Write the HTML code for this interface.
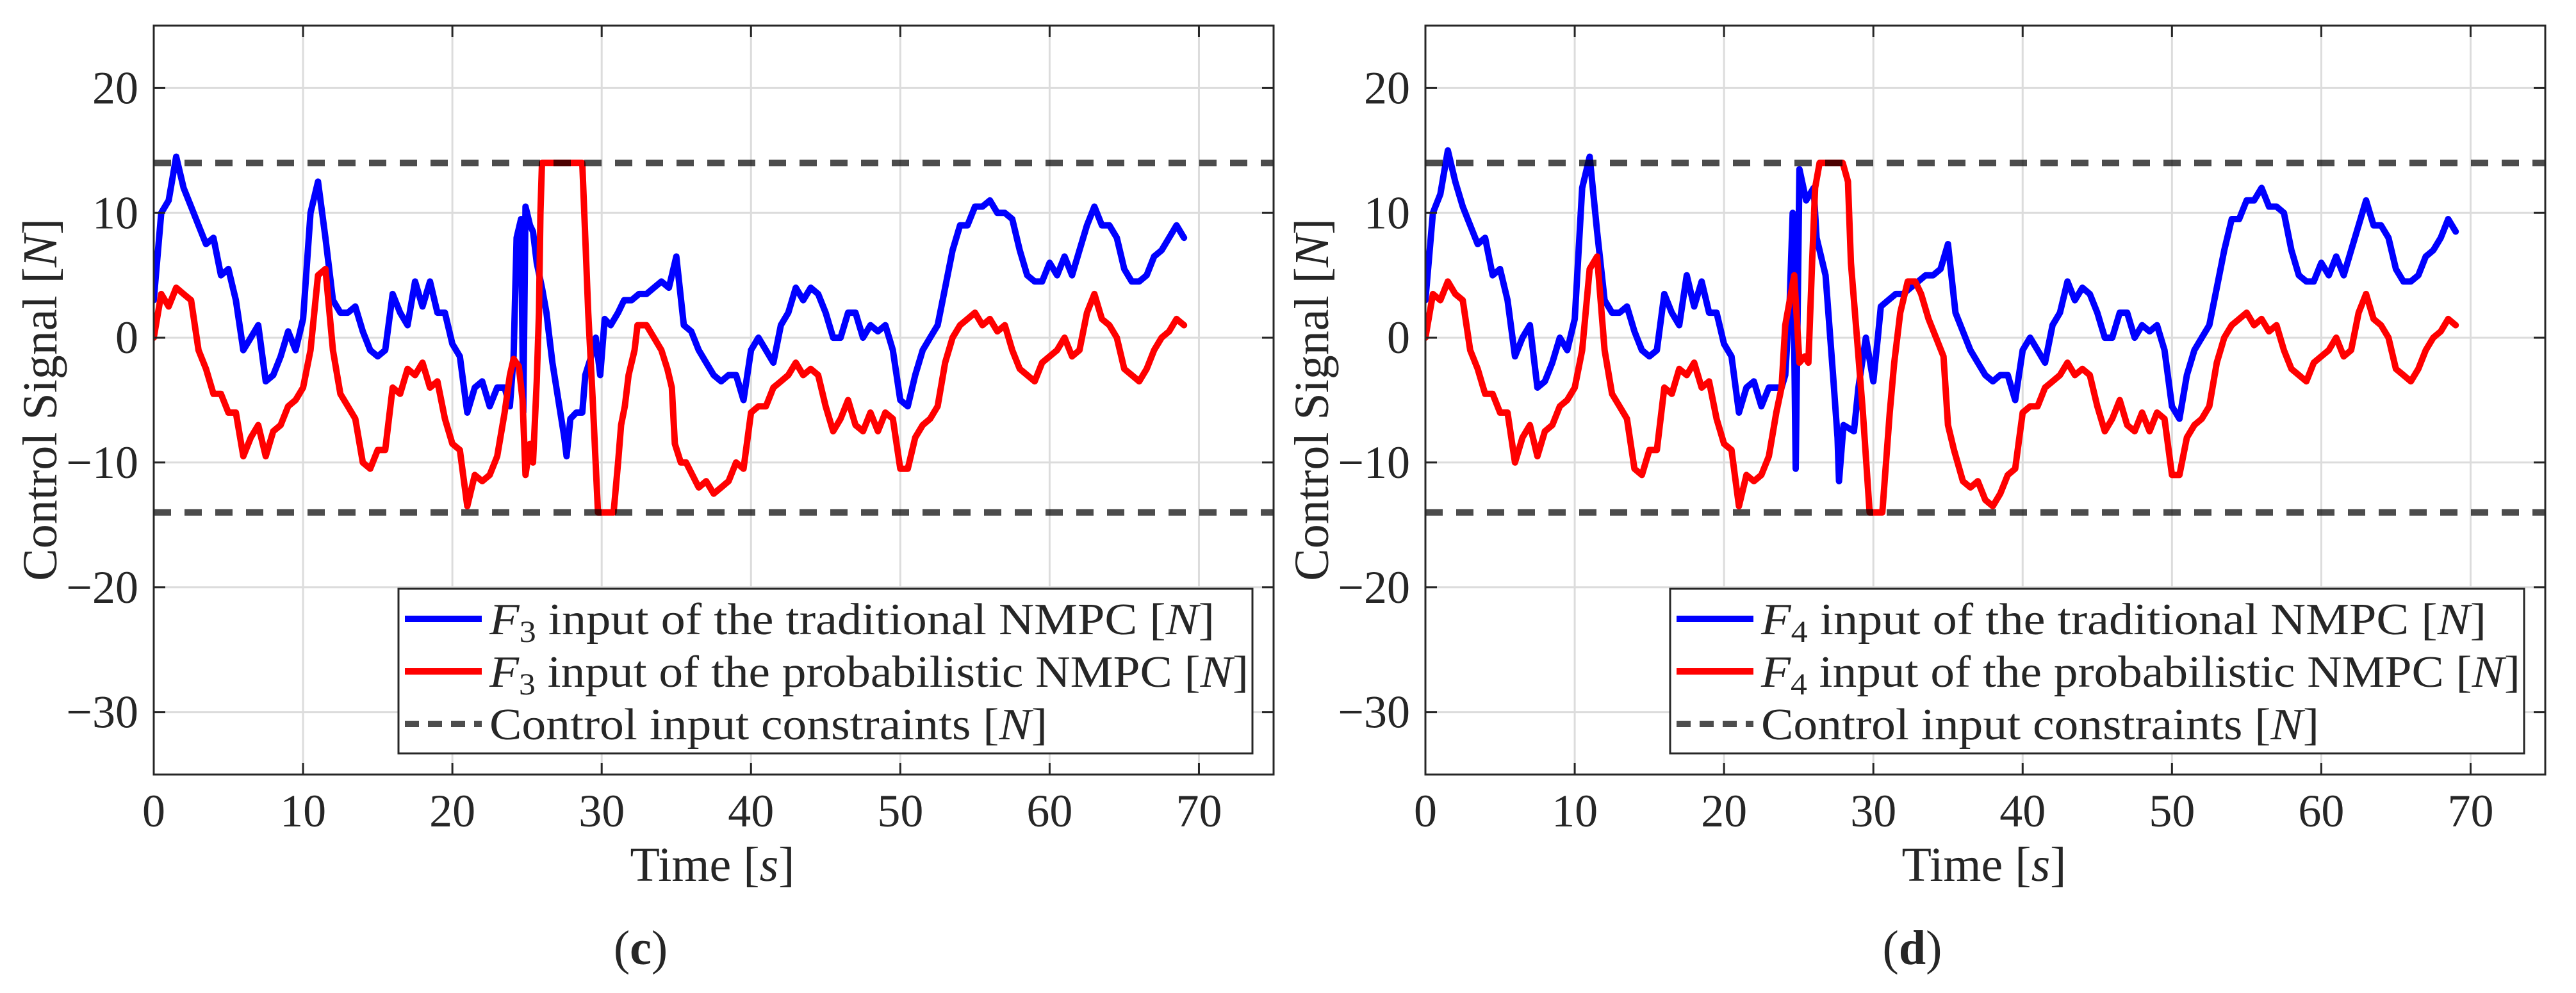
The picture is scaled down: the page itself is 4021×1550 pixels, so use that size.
<!DOCTYPE html>
<html><head><meta charset="utf-8"><style>
html,body{margin:0;padding:0;background:#fff;}
svg{display:block;}
text{font-family:"Liberation Serif",serif;fill:#262626;}
</style></head><body>
<svg id="fig" width="4021" height="1550" viewBox="0 0 4021 1550" xmlns="http://www.w3.org/2000/svg"></svg>
<script>
// ---------- data ----------
const xTicks = [0,10,20,30,40,50,60,70];
const yTicks = [20,10,0,-10,-20,-30];
const constraintLevels = [14,-14];

const headT = [0,0.5,1,1.5,2,2.5,3,3.5,4,4.5,5,5.5,6,6.5,7,7.5,8,8.5,9,9.5,10,10.5,11,11.5,12,12.5,13,13.5,14,14.5,15,15.5,16,16.5,17,17.5,18,18.5,19,19.5,20,20.5,21,21.5,22,22.5,23,23.5];
const tailT = [36,36.5,37,37.5,38,38.5,39,39.5,40,40.5,41,41.5,42,42.5,43,43.5,44,44.5,45,45.5,46,46.5,47,47.5,48,48.5,49,49.5,50,50.5,51,51.5,52,52.5,53,53.5,54,54.5,55,55.5,56,56.5,57,57.5,58,58.5,59,59.5,60,60.5,61,61.5,62,62.5,63,63.5,64,64.5,65,65.5,66,66.5,67,67.5,68,68.5,69];

// (c) F3 traditional
const cTradHead = [3,10,11,14.5,12,10.5,9,7.5,8,5,5.5,3,-1,0,1,-3.5,-3,-1.5,0.5,-1,1.5,10,12.5,8,3,2,2,2.5,0.5,-1,-1.5,-1,3.5,2,1,4.5,2.5,4.5,2,2,-0.5,-1.5,-6,-4,-3.5,-5.5,-4,-4];
const cTradMidT = [23.85,24.1,24.3,24.6,24.75,24.9,25.2,25.4,25.65,26,26.3,26.5,26.7,27.1,27.5,27.65,27.9,28.3,28.7,28.9,29.3,29.6,29.9,30.2,30.6,31.1,31.5,32,32.5,33,33.5,34,34.5,35,35.5];
const cTradMid = [-5.5,-1.5,8,9.5,-6,10.5,9,8.5,6,4,2,0,-2,-5,-8,-9.5,-6.5,-6,-6,-3,-1.5,0,-3,1.5,1,2,3,3,3.5,3.5,4,4.5,4,6.5,1];
const cTradTail = [0.5,-1,-2,-3,-3.5,-3,-3,-5,-1,0,-1,-2,1,2,4,3,4,3.5,2,0,0,2,2,0,1,0.5,1,-1,-5,-5.5,-3,-1,0,1,4,7,9,9,10.5,10.5,11,10,10,9.5,7,5,4.5,4.5,6,5,6.5,5,7,9,10.5,9,9,8,5.5,4.5,4.5,5,6.5,7,8,9,8];

// (c) F3 probabilistic
const cProbHead = [0,3.5,2.5,4,3.5,3,-1,-2.5,-4.5,-4.5,-6,-6,-9.5,-8,-7,-9.5,-7.5,-7,-5.5,-5,-4,-1,5,5.5,-1,-4.5,-5.5,-6.5,-10,-10.5,-9,-9,-4,-4.5,-2.5,-3,-2,-4,-3.5,-6.5,-8.5,-9,-13.5,-11,-11.5,-11,-9.5,-6];
const cProbMidT = [23.85,24.1,24.45,24.7,24.9,25.2,25.4,25.65,25.8,25.9,26,28.7,28.9,29.1,29.4,29.75,30.8,31.1,31.3,31.55,31.8,32.2,32.4,33,33.5,34,34.4,34.7,34.9,35.3,35.65];
const cProbMid = [-3,-1.7,-2.3,-5,-11,-8.5,-10,-3.5,2,10,14,14,8,2,-5,-14,-14,-10,-7,-5.5,-3,-1,1,1,0,-1,-2.5,-4,-8.5,-10,-10];
const cProbTail = [-11.5,-12,-11.5,-12.5,-12,-11.5,-10,-10.5,-6,-5.5,-5.5,-4,-3.5,-3,-2,-3,-2.5,-3,-5.5,-7.5,-6.5,-5,-7,-7.5,-6,-7.5,-6,-6.5,-10.5,-10.5,-8,-7,-6.5,-5.5,-2,0,1,1.5,2,1,1.5,0.5,1,-1,-2.5,-3,-3.5,-2,-1.5,-1,0,-1.5,-1,2,3.5,1.5,1,0,-2.5,-3,-3.5,-2.5,-1,0,0.5,1.5,1];

// (d) F4 traditional
const dTradHead = [3,10,11.5,15,12.5,10.5,9,7.5,8,5,5.5,3,-1.5,0,1,-4,-3.5,-2,0,-1,1.5,12,14.5,8.5,3,2,2,2.5,0.5,-1,-1.5,-1,3.5,2,1,5,2.5,4.5,2,2,-0.5,-1.5,-6,-4,-3.5,-5.5,-4,-4];
const dTradMidT = [23.85,24.1,24.4,24.6,24.8,25.05,25.5,26,26.2,26.8,27.3,27.6,27.7,28,28.7,29,29.5,30,30.3,30.5,31,31.5,32,32.5,33,33.5,34,34.5,35,35.5];
const dTradMid = [-4,-3,3,10,-10.5,13.5,11,12,8,5,-3,-8,-11.5,-7,-7.5,-4,0,-3.5,0,2.5,3,3.5,3.5,4,4.5,5,5,5.5,7.5,2];
const dTradTail = [0.5,-1,-2,-3,-3.5,-3,-3,-5,-1,0,-1,-2,1,2,4.5,3,4,3.5,2,0,0,2,2,0,1,0.5,1,-1,-5.5,-6.5,-3,-1,0,1,4,7,9.5,9.5,11,11,12,10.5,10.5,10,7,5,4.5,4.5,6,5,6.5,5,7,9,11,9,9,8,5.5,4.5,4.5,5,6.5,7,8,9.5,8.5];

// (d) F4 probabilistic
const dProbHead = [0,3.5,3,4.5,3.5,3,-1,-2.5,-4.5,-4.5,-6,-6,-10,-8,-7,-9.5,-7.5,-7,-5.5,-5,-4,-1,5.5,6.5,-1,-4.5,-5.5,-6.5,-10.5,-11,-9,-9,-4,-4.5,-2.5,-3,-2,-4,-3.5,-6.5,-8.5,-9,-13.5,-11,-11.5,-11,-9.5,-6];
const dProbMidT = [23.85,24.1,24.7,25.05,25.4,25.65,25.9,26.1,26.4,27.95,28.3,28.5,28.9,29.3,29.75,30.6,31.1,31.4,31.8,32.3,32.8,33.2,33.7,34.2,34.7,35,35.4];
const dProbMid = [-4,1,5,-2,-1.5,-2,6,12,14,14,12.5,6,0,-6,-14,-14,-6,-2,2,4.5,4.5,3.5,1.5,0,-1.5,-7,-9];
const dProbTail = [-11.5,-12,-11.5,-13,-13.5,-12.5,-11,-10.5,-6,-5.5,-5.5,-4,-3.5,-3,-2,-3,-2.5,-3,-5.5,-7.5,-6.5,-5,-7,-7.5,-6,-7.5,-6,-6.5,-11,-11,-8,-7,-6.5,-5.5,-2,0,1,1.5,2,1,1.5,0.5,1,-1,-2.5,-3,-3.5,-2,-1.5,-1,0,-1.5,-1,2,3.5,1.5,1,0,-2.5,-3,-3.5,-2.5,-1,0,0.5,1.5,1];

// ---------- drawing ----------
const NS = "http://www.w3.org/2000/svg";
const svg = document.getElementById("fig");
function mk(tag, attrs, parent){
  const e = document.createElementNS(NS, tag);
  for (const k in attrs) e.setAttribute(k, attrs[k]);
  (parent||svg).appendChild(e);
  return e;
}
const X0 = 240, W = 1748, Y0 = 40, H = 1169;
const XMIN = 0, XMAX = 75, YMIN = -35, YMAX = 25;

function drawPanel(off, idx, letter, sub, tradT, tradV, probT, probV){
  const g = mk("g", {});
  
  
  const x0 = X0 + off;
  const xs = t => x0 + (t - XMIN) / (XMAX - XMIN) * W;
  const ys = v => Y0 + (YMAX - v) / (YMAX - YMIN) * H;

  const cid = "clip" + idx;
  const cp = mk("clipPath", {id: cid}, g);
  mk("rect", {x: x0, y: Y0, width: W, height: H}, cp);

  xTicks.forEach(t => {
    const l = mk("line", {x1: xs(t), x2: xs(t), y1: Y0, y2: Y0 + H, stroke: "#dcdcdc", "stroke-width": 3}, g);
    
    
  });
  yTicks.forEach(v => {
    const l = mk("line", {x1: x0, x2: x0 + W, y1: ys(v), y2: ys(v), stroke: "#dcdcdc", "stroke-width": 3}, g);
    
    
  });

  const lineG = mk("g", {"clip-path": "url(#" + cid + ")"}, g);
  const pathOf = (T, V) => T.map((t, i) => (i ? "L" : "M") + xs(t).toFixed(1) + "," + ys(V[i]).toFixed(1)).join("");
  const pb = mk("path", {d: pathOf(tradT, tradV), fill: "none", stroke: "#0000ff", "stroke-width": 10, "stroke-linejoin": "round", "stroke-linecap": "round"}, lineG);
  
  
  const pr = mk("path", {d: pathOf(probT, probV), fill: "none", stroke: "#ff0000", "stroke-width": 10, "stroke-linejoin": "round", "stroke-linecap": "round"}, lineG);
  
  
  constraintLevels.forEach(c => {
    const l = mk("line", {x1: x0, x2: x0 + W, y1: ys(c), y2: ys(c), stroke: "#000", "stroke-opacity": 0.7, "stroke-width": 10, "stroke-dasharray": "27 21"}, lineG);
    
    
  });

  xTicks.forEach(t => {
    const a = mk("path", {d: `M${xs(t)},${Y0+H}v-18M${xs(t)},${Y0}v18`, stroke: "#262626", "stroke-width": 3}, g);
    
    
    const tx = mk("text", {x: xs(t), y: 1290, "text-anchor": "middle", "font-size": 72}, g);
    tx.textContent = String(t);
    
    
  });
  yTicks.forEach(v => {
    const a = mk("path", {d: `M${x0},${ys(v)}h18M${x0+W},${ys(v)}h-18`, stroke: "#262626", "stroke-width": 3}, g);
    
    
    const tx = mk("text", {x: x0 - 24, y: ys(v) + 24, "text-anchor": "end", "font-size": 72}, g);
    tx.textContent = v < 0 ? "\u2212" + Math.abs(v) : String(v);
    
    
  });

  const box = mk("rect", {x: x0, y: Y0, width: W, height: H, fill: "none", stroke: "#262626", "stroke-width": 3}, g);
  
  

  const yl = mk("text", {x: 0, y: 0, "text-anchor": "middle", "font-size": 76, transform: `translate(${88+off},624) rotate(-90)`}, g);
  yl.innerHTML = 'Control Signal [<tspan font-style="italic">N</tspan>]';
  
  
  const xl = mk("text", {x: 1112 + off, y: 1375, "text-anchor": "middle", "font-size": 76}, g);
  xl.innerHTML = 'Time [<tspan font-style="italic">s</tspan>]';
  
  
  const cap = mk("text", {x: 1000 + off, y: 1505, "text-anchor": "middle", "font-size": 76}, g);
  cap.innerHTML = '(<tspan font-weight="bold">' + letter + '</tspan>)';
  
  

  const lg = mk("g", {}, g);
  
  
  mk("rect", {x: 622 + off, y: 919, width: 1333, height: 257, fill: "#fff", stroke: "#262626", "stroke-width": 3}, lg);
  const entries = [
    {color: "#0000ff", dash: null, len: 1132, html: `<tspan font-style="italic">F</tspan><tspan font-size="48" dy="12">${sub}</tspan><tspan dy="-12"> input of the traditional NMPC [</tspan><tspan font-style="italic">N</tspan>]`},
    {color: "#ff0000", dash: null, len: 1185, html: `<tspan font-style="italic">F</tspan><tspan font-size="48" dy="12">${sub}</tspan><tspan dy="-12"> input of the probabilistic NMPC [</tspan><tspan font-style="italic">N</tspan>]`},
    {color: "#4d4d4d", dash: "22 14", len: 871, html: `Control input constraints [<tspan font-style="italic">N</tspan>]`}
  ];
  const cy = [966, 1048, 1130];
  entries.forEach((e, i) => {
    const eg = mk("g", {}, lg);
    
    
    const sl = mk("line", {x1: 632 + off, x2: 752 + off, y1: cy[i], y2: cy[i], stroke: e.color, "stroke-width": 10}, eg);
    if (e.dash) sl.setAttribute("stroke-dasharray", e.dash);
    const tx = mk("text", {x: 764 + off, y: cy[i] + 24, "font-size": 70, textLength: e.len, lengthAdjust: "spacingAndGlyphs"}, eg);
    tx.innerHTML = e.html;
  });
}

drawPanel(0, 0, "c", "3",
  headT.concat(cTradMidT, tailT), cTradHead.concat(cTradMid, cTradTail),
  headT.concat(cProbMidT, tailT.slice(1)), cProbHead.concat(cProbMid, cProbTail.slice(1)));
drawPanel(1985, 1, "d", "4",
  headT.concat(dTradMidT, tailT), dTradHead.concat(dTradMid, dTradTail),
  headT.concat(dProbMidT, tailT), dProbHead.concat(dProbMid, dProbTail));
</script>
</body></html>
